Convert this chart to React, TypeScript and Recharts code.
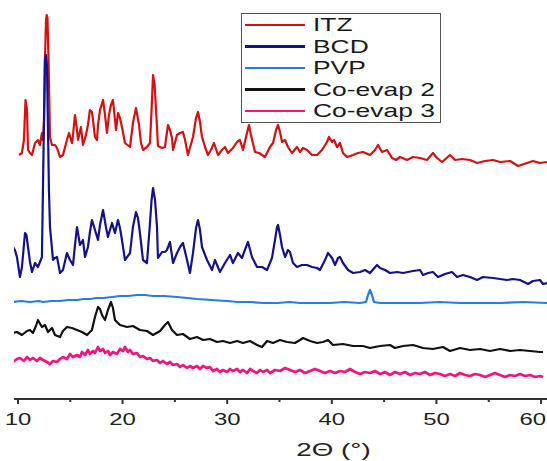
import React from 'react';
import { Legend, Line, LineChart, XAxis, YAxis } from 'recharts';

// XRD patterns, stacked with offsets as in the original figure. [2θ (°), intensity]
const ITZ: [number, number][] = [
  [10.1, 244], [10.38, 246], [10.57, 259], [10.72, 299], [10.86, 289], [10.96, 249], [11.15, 246], [11.34, 244],
  [11.63, 256], [11.91, 259], [12.1, 254], [12.29, 266], [12.39, 259], [12.49, 279], [12.58, 339], [12.68, 379],
  [12.75, 384], [12.82, 381], [12.92, 339], [13.01, 289], [13.06, 262], [13.25, 254], [13.54, 254], [13.73, 251],
  [14.02, 242], [14.3, 244], [14.68, 259], [14.88, 266], [15.16, 256], [15.26, 264], [15.45, 284], [15.64, 269],
  [15.74, 259], [16.02, 272], [16.21, 254], [16.5, 264], [16.69, 274], [16.88, 289], [17.07, 287], [17.17, 279],
  [17.36, 262], [17.55, 259], [17.65, 274], [17.84, 289], [18.13, 299], [18.32, 284], [18.51, 266], [18.7, 284],
  [18.89, 294], [19.08, 299], [19.37, 269], [19.56, 286], [19.75, 281], [19.94, 272], [20.23, 256], [20.71, 252],
  [20.99, 276], [21.28, 291], [21.57, 274], [21.76, 256], [21.95, 249], [22.33, 252], [22.62, 256], [22.77, 289],
  [22.91, 324], [23.06, 314], [23.29, 272], [23.38, 253], [23.77, 251], [24.05, 252], [24.34, 274], [24.53, 269],
  [24.72, 261], [24.82, 249], [25.2, 264], [25.49, 266], [25.77, 267], [25.97, 259], [26.25, 244], [26.73, 262],
  [27.02, 281], [27.21, 287], [27.4, 277], [27.59, 262], [27.88, 252], [28.16, 244], [28.45, 249], [28.74, 256],
  [29.12, 244], [29.5, 249], [29.79, 252], [30.08, 246], [30.55, 251], [30.94, 257], [31.22, 259], [31.51, 249],
  [31.89, 266], [32.08, 274], [32.27, 264], [32.66, 247], [33.04, 246], [33.33, 244], [33.61, 242], [34.09, 252],
  [34.38, 256], [34.67, 269], [34.86, 274], [35.05, 267], [35.24, 257], [35.53, 259], [35.81, 252], [36.19, 246],
  [36.67, 252], [36.96, 247], [37.25, 251], [37.63, 249], [38.11, 244], [38.59, 244], [39.06, 249], [39.54, 257],
  [39.73, 262], [40.02, 257], [40.21, 259], [40.5, 252], [40.78, 256], [41.07, 246], [41.45, 242], [42.03, 244],
  [42.5, 246], [42.98, 247], [43.65, 244], [44.13, 249], [44.42, 254], [44.8, 247], [45.28, 249], [45.76, 241],
  [46.14, 239], [46.52, 242], [47.19, 239], [47.76, 242], [48.43, 241], [49.1, 239], [49.67, 246], [50.06, 241],
  [50.54, 237], [51.3, 244], [51.78, 239], [52.45, 240], [53.21, 239], [53.88, 236], [54.65, 238], [55.41, 239],
  [56.08, 237], [57.04, 238], [57.8, 233], [58.66, 236], [59.23, 238], [59.9, 236], [60.57, 237],
];

const BCD: [number, number][] = [
  [9.52, 152], [9.71, 149], [9.9, 142], [10.19, 122], [10.38, 132], [10.57, 154], [10.67, 166], [10.81, 164],
  [10.96, 152], [11.15, 137], [11.34, 127], [11.63, 136], [11.91, 132], [12.1, 137], [12.29, 142], [12.39, 212],
  [12.49, 279], [12.58, 339], [12.68, 344], [12.77, 334], [12.87, 269], [12.96, 209], [13.06, 172], [13.35, 139],
  [13.54, 141], [13.73, 142], [14.02, 126], [14.3, 129], [14.68, 146], [14.97, 139], [15.26, 134], [15.45, 154],
  [15.64, 172], [15.93, 154], [16.21, 159], [16.41, 142], [16.69, 152], [16.88, 167], [17.07, 179], [17.36, 169],
  [17.65, 159], [17.84, 174], [18.13, 189], [18.41, 172], [18.6, 162], [18.99, 176], [19.27, 166], [19.56, 179],
  [19.75, 171], [19.94, 159], [20.23, 139], [20.71, 146], [20.99, 172], [21.28, 187], [21.47, 181], [21.66, 166],
  [21.95, 139], [22.33, 136], [22.62, 176], [22.77, 199], [22.91, 211], [23.1, 199], [23.29, 172], [23.38, 141],
  [23.77, 147], [24.05, 147], [24.24, 149], [24.53, 157], [24.82, 136], [25.2, 146], [25.49, 152], [25.77, 156],
  [26.16, 139], [26.44, 126], [26.73, 146], [27.02, 171], [27.21, 179], [27.4, 169], [27.59, 152], [28.07, 139],
  [28.55, 129], [28.83, 139], [29.31, 127], [29.79, 136], [30.27, 144], [30.55, 136], [31.03, 146], [31.41, 141],
  [31.8, 152], [31.99, 157], [32.37, 142], [32.85, 132], [33.33, 132], [33.81, 129], [34.28, 141], [34.57, 159],
  [34.76, 172], [34.86, 174], [35.05, 164], [35.24, 152], [35.53, 142], [35.81, 149], [36.0, 147], [36.29, 136],
  [36.67, 132], [37.15, 134], [37.63, 134], [38.11, 132], [38.59, 131], [38.87, 129], [39.35, 139], [39.64, 146],
  [40.02, 141], [40.31, 134], [40.59, 141], [40.78, 142], [41.07, 136], [41.55, 129], [42.03, 126], [42.7, 127],
  [43.17, 129], [43.65, 126], [44.32, 134], [44.61, 131], [45.09, 129], [45.56, 126], [46.23, 127], [46.81, 126],
  [47.28, 127], [47.76, 128], [48.43, 129], [48.72, 124], [49.2, 126], [49.67, 127], [50.15, 122], [50.82, 125],
  [51.49, 127], [51.97, 122], [52.54, 124], [53.21, 122], [53.88, 119], [54.46, 122], [55.41, 121], [56.08, 120],
  [56.75, 119], [57.32, 120], [57.99, 119], [58.76, 115], [59.23, 118], [59.9, 119], [60.19, 115], [60.57, 116],
];

const PVP: [number, number][] = [
  [9.52, 97], [10.3, 98], [11.15, 97], [12.0, 98], [12.39, 97], [13.2, 98], [14.02, 98], [14.8, 99],
  [15.64, 99], [16.3, 100], [16.88, 100], [17.5, 101], [18.13, 101], [19.0, 102], [19.75, 103], [20.5, 103],
  [21.38, 104], [22.1, 104], [22.91, 103], [24.0, 103], [25.2, 102], [26.2, 101], [27.11, 100], [28.5, 99],
  [29.98, 98], [31.0, 97], [32.18, 97], [33.5, 96], [34.76, 96], [36.0, 97], [36.96, 96], [38.4, 96],
  [39.83, 96], [41.2, 97], [42.7, 96], [43.27, 97], [43.46, 104], [43.65, 109], [43.84, 104], [44.03, 97],
  [44.61, 96], [46.5, 96], [48.43, 96], [50.3, 97], [52.26, 96], [54.2, 96], [56.08, 96], [58.3, 97],
  [60.57, 96],
];

const CO_EVAP_2: [number, number][] = [
  [9.52, 66], [9.9, 67], [10.38, 64], [10.86, 68], [11.15, 69], [11.43, 66], [11.72, 73], [11.91, 79],
  [12.29, 72], [12.58, 74], [12.87, 67], [13.25, 71], [13.54, 64], [14.02, 62], [14.3, 68], [14.68, 72],
  [15.16, 71], [15.64, 69], [16.12, 67], [16.6, 64], [17.07, 69], [17.36, 82], [17.65, 92], [17.84, 90],
  [18.03, 84], [18.32, 79], [18.6, 89], [18.89, 97], [19.08, 91], [19.27, 79], [19.75, 74], [20.42, 72],
  [20.99, 73], [21.66, 69], [22.33, 68], [22.91, 64], [23.58, 68], [24.05, 74], [24.34, 77], [24.72, 69],
  [25.2, 64], [25.77, 65], [26.44, 60], [27.11, 62], [27.69, 59], [28.36, 60], [29.02, 57], [29.6, 58],
  [30.27, 56], [30.94, 58], [31.51, 56], [32.18, 58], [32.85, 54], [33.33, 52], [33.81, 58], [34.38, 56],
  [35.05, 59], [35.72, 57], [36.48, 56], [36.96, 59], [37.25, 61], [37.92, 58], [38.59, 56], [39.16, 57],
  [39.64, 59], [40.11, 54], [41.07, 55], [42.03, 53], [42.98, 53], [43.65, 51], [44.61, 53], [45.56, 54],
  [46.04, 51], [46.81, 53], [47.76, 54], [48.72, 51], [49.67, 50], [50.63, 52], [51.3, 48], [52.26, 51],
  [53.21, 49], [54.17, 50], [55.12, 48], [56.08, 50], [57.04, 48], [57.99, 49], [58.95, 48], [59.9, 47],
  [60.19, 47],
];

const CO_EVAP_3: [number, number][] = [
  [9.52, 37], [9.9, 40], [10.19, 41], [10.57, 38], [10.86, 42], [11.15, 39], [11.43, 41], [11.82, 38],
  [12.1, 41], [12.39, 39], [12.77, 37], [13.06, 35], [13.35, 38], [13.73, 37], [14.02, 40], [14.3, 42],
  [14.68, 40], [14.97, 45], [15.26, 42], [15.64, 44], [15.93, 42], [16.12, 47], [16.41, 44], [16.69, 49],
  [16.88, 45], [17.17, 48], [17.36, 46], [17.65, 52], [17.84, 48], [18.13, 50], [18.32, 46], [18.6, 48],
  [18.8, 44], [19.08, 47], [19.46, 45], [19.75, 50], [20.04, 48], [20.23, 52], [20.52, 47], [20.71, 49],
  [20.99, 45], [21.38, 46], [21.66, 42], [21.95, 43], [22.33, 40], [22.62, 41], [22.91, 38], [23.29, 39],
  [23.58, 36], [23.86, 38], [24.24, 35], [24.53, 37], [24.82, 34], [25.2, 35], [25.49, 32], [25.77, 34],
  [26.16, 31], [26.44, 33], [26.73, 31], [27.11, 33], [27.4, 30], [27.69, 33], [28.07, 31], [28.36, 32],
  [28.64, 28], [29.02, 30], [29.31, 27], [29.6, 29], [29.98, 27], [30.27, 30], [30.55, 28], [30.94, 30],
  [31.22, 27], [31.51, 29], [31.89, 26], [32.18, 30], [32.47, 28], [32.85, 26], [33.14, 29], [33.42, 27],
  [33.81, 29], [34.09, 26], [34.57, 29], [35.05, 28], [35.53, 31], [36.0, 29], [36.48, 27], [36.96, 29],
  [37.44, 26], [37.92, 28], [38.4, 30], [38.87, 28], [39.35, 26], [39.83, 28], [40.31, 26], [40.78, 28],
  [41.26, 27], [41.74, 30], [42.22, 27], [42.7, 25], [43.17, 27], [43.65, 26], [44.13, 28], [44.61, 25],
  [45.09, 27], [45.56, 24], [46.04, 27], [46.52, 25], [47.0, 27], [47.48, 24], [47.95, 26], [48.43, 25],
  [48.91, 27], [49.39, 24], [49.87, 26], [50.34, 25], [50.82, 23], [51.3, 25], [51.78, 23], [52.26, 26],
  [52.73, 24], [53.21, 23], [53.69, 25], [54.17, 24], [54.65, 22], [55.12, 24], [55.6, 26], [56.08, 24],
  [56.56, 22], [57.04, 24], [57.51, 23], [57.99, 25], [58.47, 23], [58.95, 24], [59.42, 22], [59.9, 23],
  [60.19, 22],
];

const X_TICKS = [10, 15, 20, 25, 30, 35, 40, 45, 50, 55, 60];

const SERIES = [
  { name: 'ITZ', points: ITZ, color: '#d41010', width: 2.2 },
  { name: 'BCD', points: BCD, color: '#12128a', width: 2.2 },
  { name: 'PVP', points: PVP, color: '#2a7be4', width: 2.2 },
  { name: 'Co-evap 2', points: CO_EVAP_2, color: '#111111', width: 2.2 },
  { name: 'Co-evap 3', points: CO_EVAP_3, color: '#f5137f', width: 2.7 },
];

const FONT = '"Liberation Sans", Arial, sans-serif';

function toRows(points: [number, number][]) {
  return points.map(([theta, counts]) => ({ theta, counts }));
}

function ThetaTick(props: any) {
  const { x, y, payload } = props;
  const major = payload.value % 10 === 0;
  // the last label would run past the page edge, so it is right-aligned there
  const atEdge = x + 14 > 547;
  return (
    <g>
      <line x1={x} x2={x} y1={y} y2={y + (major ? 5 : 3)} stroke="#333" strokeWidth={2} />
      {major && (
        <text
          transform={`translate(${atEdge ? 546 : x},${y + 26}) scale(1.45,1)`}
          textAnchor={atEdge ? 'end' : 'middle'}
          fontFamily={FONT}
          fontSize={16.5}
          fill="#222"
        >
          {payload.value}
        </text>
      )}
    </g>
  );
}

function AxisTitle(props: any) {
  const vb = props.viewBox ?? { x: 14, y: 399, width: 533 };
  return (
    <text
      transform={`translate(${vb.x + vb.width / 2 + 53},${vb.y + 57}) scale(1.5,1)`}
      textAnchor="middle"
      fontFamily={FONT}
      fontSize={18.5}
      fill="#222"
    >
      2Θ (°)
    </text>
  );
}

function LegendBox() {
  return (
    <div
      style={{
        width: 200,
        height: 110,
        boxSizing: 'border-box',
        border: '1.5px solid #555',
        background: '#fff',
        fontFamily: FONT,
      }}
    >
      {SERIES.map((s) => (
        <div key={s.name} style={{ height: 21.5, display: 'flex', alignItems: 'center', position: 'relative' }}>
          <div style={{ position: 'absolute', left: 3, width: 60, height: 2.5, background: s.color }} />
          <span
            style={{
              position: 'absolute',
              left: 71,
              fontSize: 19,
              lineHeight: '21px',
              color: '#1a1a1a',
              transform: 'scaleX(1.39)',
              transformOrigin: 'left center',
              whiteSpace: 'nowrap',
            }}
          >
            {s.name}
          </span>
        </div>
      ))}
    </div>
  );
}

export default function App() {
  return (
    <div style={{ position: 'absolute', left: 0, top: 0, width: 547, height: 461, overflow: 'hidden', background: '#fff' }}>
      <LineChart width={547} height={461} margin={{ top: 0, right: 0, bottom: 2, left: 14 }}>
        <XAxis
          dataKey="theta"
          type="number"
          domain={[9.62, 60.57]}
          allowDataOverflow
          ticks={X_TICKS}
          interval={0}
          tick={<ThetaTick />}
          tickLine={false}
          tickSize={0}
          tickMargin={0}
          height={60}
          axisLine={{ stroke: '#333', strokeWidth: 2 }}
          label={<AxisTitle />}
        />
        <YAxis type="number" domain={[0, 399]} allowDataOverflow hide />
        <Legend
          layout="vertical"
          align="center"
          verticalAlign="middle"
          content={() => <LegendBox />}
          wrapperStyle={{ position: 'absolute', left: 241, top: 13, width: 200, height: 110 }}
        />
        {SERIES.map((s) => (
          <Line
            key={s.name}
            name={s.name}
            data={toRows(s.points)}
            dataKey="counts"
            type="linear"
            stroke={s.color}
            strokeWidth={s.width}
            strokeLinejoin="round"
            dot={false}
            activeDot={false}
            isAnimationActive={false}
          />
        ))}
      </LineChart>
    </div>
  );
}
